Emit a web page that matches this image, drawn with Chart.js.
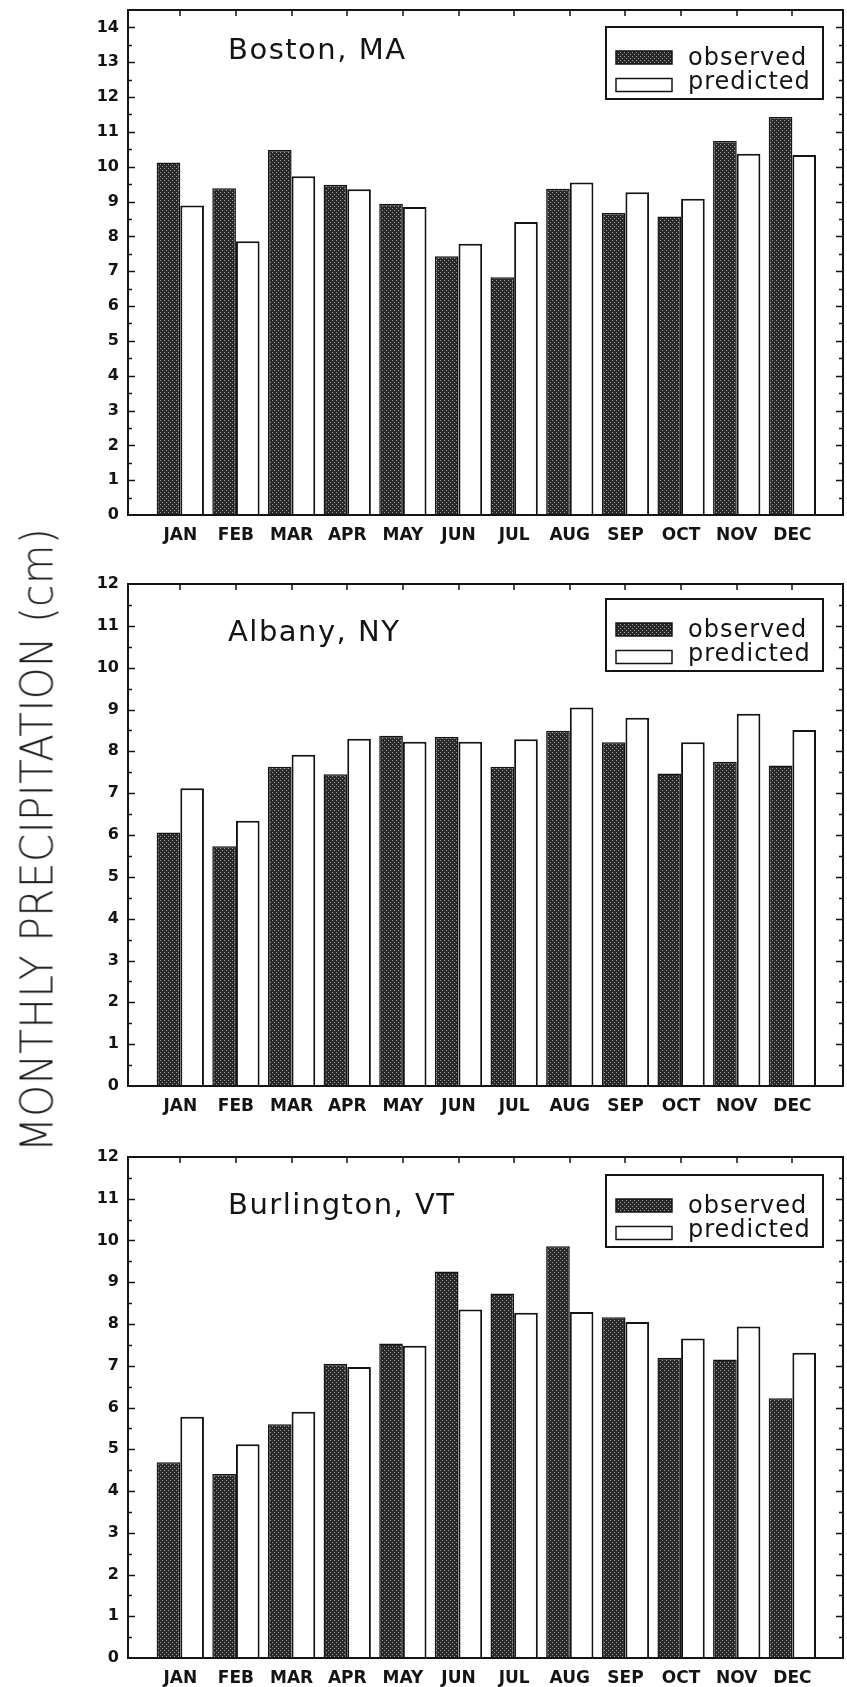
<!DOCTYPE html>
<html>
<head>
<meta charset="utf-8">
<script src="https://cdn.jsdelivr.net/npm/chart.js@4/dist/chart.umd.min.js"></script>
<style>
  html, body { margin: 0; padding: 0; background: #fff; }
  #page { position: relative; width: 847px; height: 1687px; overflow: hidden; background: #fff; }
  #page canvas { position: absolute; left: 0; }
  #ytitle {
    position: absolute; left: 37px; top: 840px;
    transform: translate(-50%, -50%) rotate(-90deg);
    white-space: nowrap; line-height: 1;
    font-family: "DejaVu Sans", sans-serif; font-weight: 200;
    font-size: 45px; letter-spacing: 0.5px; color: #1c1c1c;
  }
</style>
</head>
<body>
<div id="page">
  <canvas id="boston" width="847" height="551" style="top:0px"></canvas>
  <canvas id="albany" width="847" height="562" style="top:560px"></canvas>
  <canvas id="burlington" width="847" height="557" style="top:1130px"></canvas>
  <div id="ytitle">MONTHLY PRECIPITATION (cm)</div>
</div>
<script>
// Monthly precipitation (cm), observed vs. model-predicted
const MONTHS = ['JAN', 'FEB', 'MAR', 'APR', 'MAY', 'JUN', 'JUL', 'AUG', 'SEP', 'OCT', 'NOV', 'DEC'];

const BOSTON_OBSERVED  = [10.12, 9.38, 10.48, 9.48, 8.94, 7.43, 6.83, 9.37, 8.67, 8.57, 10.74, 11.43];
const BOSTON_PREDICTED = [8.89, 7.86, 9.73, 9.35, 8.84, 7.79, 8.41, 9.55, 9.27, 9.08, 10.37, 10.34];

const ALBANY_OBSERVED  = [6.06, 5.73, 7.63, 7.45, 8.37, 8.34, 7.63, 8.49, 8.22, 7.47, 7.75, 7.66];
const ALBANY_PREDICTED = [7.12, 6.34, 7.92, 8.30, 8.23, 8.23, 8.29, 9.05, 8.80, 8.22, 8.90, 8.51];

const BURLINGTON_OBSERVED  = [4.69, 4.41, 5.60, 7.05, 7.53, 9.26, 8.73, 9.86, 8.16, 7.19, 7.15, 6.22];
const BURLINGTON_PREDICTED = [5.78, 5.12, 5.90, 6.97, 7.48, 8.35, 8.27, 8.29, 8.05, 7.65, 7.94, 7.31];

const SERIES_LABELS = ['observed', 'predicted'];

// Dark stippled fill used for the observed bars
function stipple() {
  const c = document.createElement('canvas');
  c.width = 4; c.height = 4;
  const g = c.getContext('2d');
  g.fillStyle = '#282828'; g.fillRect(0, 0, 4, 4);
  g.fillStyle = '#a4a4a4'; g.fillRect(0, 0, 1, 1); g.fillRect(2, 2, 1, 1);
  return g.createPattern(c, 'repeat');
}
const DOTS = stipple();
const INK = '#141414';

// Frame, inward tick marks, station name and boxed legend
const panelDecor = {
  id: 'panelDecor',
  afterDatasetsDraw(chart, args, o) {
    const { ctx, chartArea: a, scales: { x, y } } = chart;
    ctx.save();
    ctx.strokeStyle = INK;
    ctx.lineWidth = 2;
    ctx.strokeRect(a.left, a.top, a.right - a.left, a.bottom - a.top);

    ctx.lineWidth = 1.5;
    ctx.beginPath();
    MONTHS.forEach((m, i) => {
      const px = Math.round(x.getPixelForValue(i));
      ctx.moveTo(px, a.top); ctx.lineTo(px, a.top + 6);
    });
    for (let v = 0.5; v < y.max; v += 0.5) {
      const py = Math.round(y.getPixelForValue(v)) + 0.5;
      const len = Number.isInteger(v) ? 7 : 4;
      ctx.moveTo(a.left, py); ctx.lineTo(a.left + len, py);
      ctx.moveTo(a.right, py); ctx.lineTo(a.right - len, py);
    }
    ctx.stroke();

    // station name
    ctx.fillStyle = INK;
    ctx.textBaseline = 'alphabetic';
    ctx.textAlign = 'left';
    ctx.font = '29px "DejaVu Sans"';
    ctx.letterSpacing = '1.5px';
    ctx.fillText(o.city, a.left + 100, a.top + o.cityBaseline);

    // legend
    const bw = 217, bh = 72;
    const bx = a.right - 20 - bw, by = a.top + o.legendTop;
    ctx.lineWidth = 2;
    ctx.fillStyle = '#fff';
    ctx.fillRect(bx, by, bw, bh);
    ctx.strokeRect(bx, by, bw, bh);
    ctx.font = '24px "DejaVu Sans"';
    ctx.letterSpacing = '1px';
    chart.data.datasets.forEach((ds, i) => {
      const sy = by + 24 + i * 27.5;
      ctx.fillStyle = ds.backgroundColor;
      ctx.fillRect(bx + 10, sy, 56, 13);
      ctx.lineWidth = 1.5;
      ctx.strokeRect(bx + 10, sy, 56, 13);
      ctx.fillStyle = INK;
      ctx.fillText(ds.label, bx + 82, by + 37.5 + i * 24.3);
    });
    ctx.restore();
  }
};

function makePanel(id, city, observed, predicted, yMax, lay, decor) {
  const tickFont = { family: 'DejaVu Sans', weight: 'bold' };
  return new Chart(document.getElementById(id), {
    type: 'bar',
    data: {
      datasets: [
        {
          label: SERIES_LABELS[0],
          data: observed.map((v, i) => ({ x: i, y: v })),
          backgroundColor: DOTS, borderColor: INK, borderWidth: 1.5
        },
        {
          label: SERIES_LABELS[1],
          data: predicted.map((v, i) => ({ x: i, y: v })),
          backgroundColor: '#ffffff', borderColor: INK, borderWidth: 2
        }
      ]
    },
    options: {
      responsive: false,
      animation: false,
      devicePixelRatio: 1,
      categoryPercentage: 0.85,
      barPercentage: 1.0,
      layout: { padding: { left: 10, right: 4, top: lay.top, bottom: 0 } },
      plugins: {
        legend: { display: false },
        tooltip: { enabled: false },
        panelDecor: Object.assign({ city }, decor)
      },
      scales: {
        x: {
          type: 'linear',
          min: -0.94, max: 11.91,
          offset: false,
          grid: { display: false, drawTicks: false, offset: false },
          border: { display: false },
          afterBuildTicks: s => { s.ticks = MONTHS.map((m, i) => ({ value: i })); },
          afterFit: s => { s.height = lay.axis; s.paddingLeft = 0; s.paddingRight = 0; },
          ticks: {
            autoSkip: false, maxRotation: 0, padding: 10, color: INK,
            font: Object.assign({ size: 17 }, tickFont),
            callback: v => MONTHS[v] ?? ''
          }
        },
        y: {
          min: 0, max: yMax,
          grid: { display: false, drawTicks: false },
          border: { display: false },
          afterFit: s => { s.width = 118; s.paddingTop = 0; s.paddingBottom = 0; },
          ticks: {
            stepSize: 1, includeBounds: false, padding: 9, color: INK,
            font: Object.assign({ size: 16 }, tickFont)
          }
        }
      }
    },
    plugins: [panelDecor]
  });
}

makePanel('boston', 'Boston, MA', BOSTON_OBSERVED, BOSTON_PREDICTED, 14.5,
  { top: 10, axis: 36 }, { cityBaseline: 49, legendTop: 17 });
makePanel('albany', 'Albany, NY', ALBANY_OBSERVED, ALBANY_PREDICTED, 12,
  { top: 24, axis: 36 }, { cityBaseline: 57, legendTop: 15 });
makePanel('burlington', 'Burlington, VT', BURLINGTON_OBSERVED, BURLINGTON_PREDICTED, 12,
  { top: 27, axis: 29 }, { cityBaseline: 57, legendTop: 18 });

// Shared axis title: condense along the text direction to span the three panels
const yt = document.getElementById('ytitle');
const scaleX = 624 / yt.offsetWidth;
yt.style.transform = `translate(-50%, -50%) rotate(-90deg) scaleX(${scaleX})`;
</script>
</body>
</html>
